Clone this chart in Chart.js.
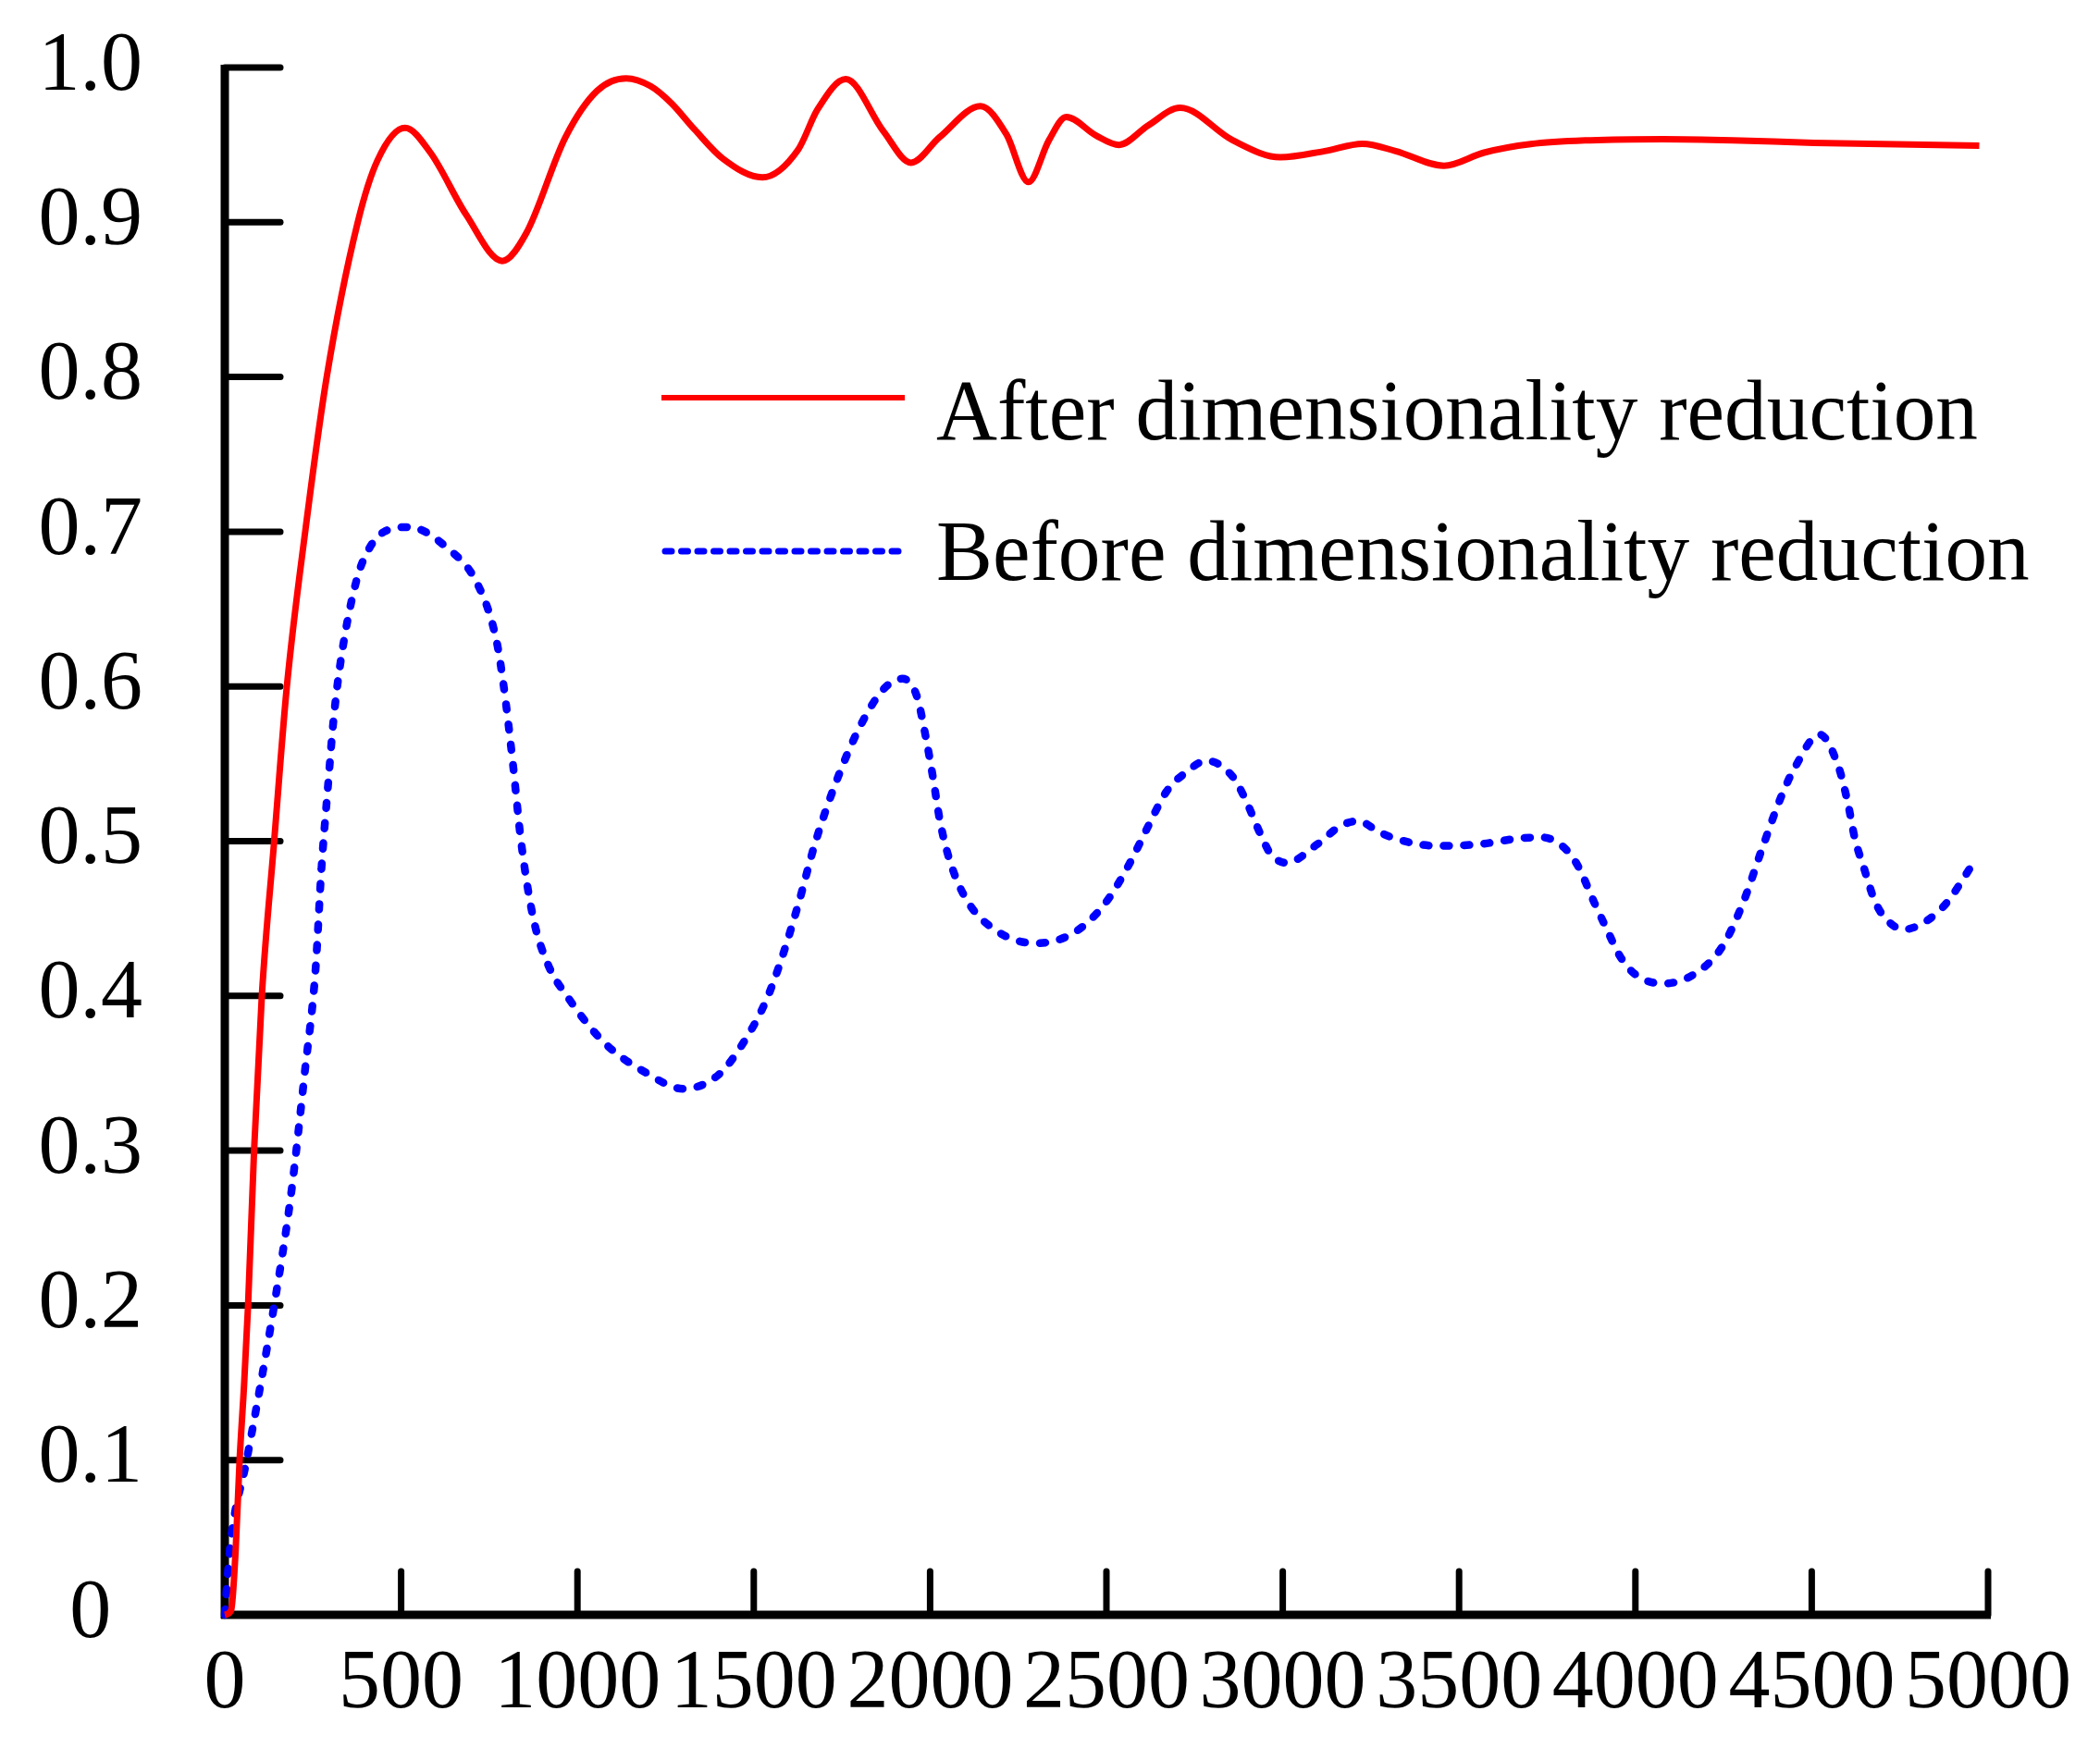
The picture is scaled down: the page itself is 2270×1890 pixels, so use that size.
<!DOCTYPE html>
<html>
<head>
<meta charset="utf-8">
<title>Dimensionality reduction</title>
<script src="https://cdn.jsdelivr.net/npm/chart.js@4.4.1/dist/chart.umd.min.js"></script>
<style>
    html, body { margin: 0; padding: 0; background: #fff; }
    #wrap { width: 2270px; height: 1890px; }
</style>
</head>
<body>
<div id="wrap"><canvas id="chart" width="2270" height="1890"></canvas></div>
<script>
// Series names
const seriesNames = ['After dimensionality reduction', 'Before dimensionality reduction'];

// Tick values
const xTicks = [0, 500, 1000, 1500, 2000, 2500, 3000, 3500, 4000, 4500, 5000];
const yTicks = [0, 0.1, 0.2, 0.3, 0.4, 0.5, 0.6, 0.7, 0.8, 0.9, 1.0];

// After dimensionality reduction (x, y)
const afterX = [0, 18, 31, 42, 55, 66, 83, 105, 140, 176, 228, 289, 377, 433, 511, 583, 684, 787,
    855, 966, 1056, 1138, 1207, 1266, 1332, 1413, 1524, 1626, 1681, 1761, 1867, 1946, 2027, 2143,
    2216, 2279, 2337, 2386, 2471, 2536, 2618, 2709, 2858, 2993, 3119, 3226, 3320, 3457, 3571,
    3703, 3873, 4078, 4276, 4506, 4975];
const afterY = [0, 0.003, 0.043, 0.1, 0.15, 0.2, 0.3, 0.4, 0.5, 0.6, 0.7, 0.8, 0.9, 0.94, 0.961, 0.945, 0.905, 0.875,
    0.893, 0.955, 0.985, 0.993, 0.988, 0.977, 0.96, 0.941, 0.929, 0.947, 0.973, 0.9925, 0.959, 0.9385, 0.955, 0.975,
    0.957, 0.926, 0.953, 0.968, 0.956, 0.95, 0.9625, 0.974, 0.953, 0.942, 0.946, 0.9507, 0.946, 0.9365, 0.945,
    0.9505, 0.953, 0.9537, 0.953, 0.9513, 0.9495];

// Before dimensionality reduction (x, y)
const beforeX = [0, 8, 18, 62, 140, 188, 227, 257, 274, 292, 309, 331, 374, 409, 452, 522, 628, 717, 770,
    791, 817, 840, 875, 917, 970, 1075, 1197, 1299, 1400, 1474, 1533, 1573, 1626, 1673, 1733, 1801,
    1867, 1921, 1962, 1988, 2009, 2028, 2055, 2101, 2182, 2298, 2409, 2497, 2562, 2617, 2670, 2723,
    2784, 2857, 2890, 2938, 2965, 3011, 3098, 3165, 3214, 3273, 3321, 3435, 3556, 3677, 3737, 3797,
    3837, 3884, 3917, 3958, 4005, 4078, 4159, 4244, 4305, 4359, 4412, 4453, 4522, 4576, 4603, 4622,
    4649, 4676, 4702, 4762, 4829, 4882, 4956];
const beforeY = [0, 0.025, 0.05, 0.1, 0.2, 0.272, 0.351, 0.416, 0.482, 0.534, 0.58, 0.62, 0.669, 0.689, 0.7, 0.703, 0.69, 0.666, 0.63,
    0.6, 0.55, 0.5, 0.45, 0.42, 0.4, 0.37, 0.35, 0.34, 0.349, 0.371, 0.396, 0.42, 0.459, 0.498, 0.538, 0.574,
    0.598, 0.605, 0.594, 0.567, 0.54, 0.513, 0.488, 0.463, 0.443, 0.434, 0.441, 0.46, 0.484, 0.509, 0.532, 0.544,
    0.552, 0.542, 0.529, 0.504, 0.492, 0.486, 0.498, 0.51, 0.513, 0.506, 0.5015, 0.497, 0.498, 0.502, 0.5024, 0.496,
    0.484, 0.46, 0.444, 0.425, 0.413, 0.408, 0.413, 0.431, 0.46, 0.495, 0.528, 0.548, 0.569, 0.548, 0.524, 0.502,
    0.482, 0.463, 0.452, 0.443, 0.449, 0.46, 0.485];

const tickFont = { family: '"Liberation Serif", "Times New Roman", serif', size: 90 };

function toPoints(xs, ys) {
    return xs.map((x, i) => ({ x: x, y: ys[i] }));
}

// Axes with ticks pointing into the plot
const inwardAxes = {
    id: 'inwardAxes',
    beforeDatasetsDraw(chart) {
        const ctx = chart.ctx;
        const xs = chart.scales.x;
        const ys = chart.scales.y;
        const x0 = xs.getPixelForValue(0);
        const y0 = ys.getPixelForValue(0);
        ctx.save();
        ctx.strokeStyle = '#000';

        ctx.lineCap = 'butt';
        ctx.lineWidth = 9;
        ctx.beginPath();
        ctx.moveTo(x0, ys.getPixelForValue(1) - 3);
        ctx.lineTo(x0, y0 + 4);
        ctx.stroke();
        ctx.lineWidth = 9;
        ctx.beginPath();
        ctx.moveTo(x0 - 4, y0);
        ctx.lineTo(xs.getPixelForValue(5000) + 3, y0);
        ctx.stroke();

        ctx.lineCap = 'round';
        ctx.lineWidth = 7;
        yTicks.slice(1).forEach(v => {
            const py = ys.getPixelForValue(v);
            ctx.beginPath();
            ctx.moveTo(x0, py);
            ctx.lineTo(x0 + 60, py);
            ctx.stroke();
        });
        xTicks.slice(1).forEach(v => {
            const px = xs.getPixelForValue(v);
            ctx.beginPath();
            ctx.moveTo(px, y0);
            ctx.lineTo(px, y0 - 47);
            ctx.stroke();
        });
        ctx.restore();
    }
};

// Legend drawn inside the plot
const inlineLegend = {
    id: 'inlineLegend',
    afterDraw(chart) {
        const ctx = chart.ctx;
        const rows = [
            { lineY: 430, textY: 475 },
            { lineY: 596, textY: 627 }
        ];
        ctx.save();
        ctx.font = '94px "Liberation Serif", "Times New Roman", serif';
        ctx.fillStyle = '#000';
        ctx.textBaseline = 'alphabetic';
        const squeeze = 1126 / ctx.measureText(seriesNames[0]).width;
        chart.data.datasets.forEach((ds, i) => {
            const r = rows[i];
            ctx.strokeStyle = ds.borderColor;
            ctx.lineWidth = i === 0 ? 6 : 7;
            ctx.lineCap = i === 0 ? 'butt' : 'round';
            ctx.setLineDash(i === 0 ? [] : [7, 10.5]);
            ctx.beginPath();
            ctx.moveTo(i === 0 ? 715 : 719, r.lineY);
            ctx.lineTo(978, r.lineY);
            ctx.stroke();
            ctx.setLineDash([]);
            ctx.save();
            ctx.translate(1012, r.textY);
            ctx.scale(squeeze, 1);
            ctx.fillText(ds.label, 0, 0);
            ctx.restore();
        });
        ctx.restore();
    }
};

new Chart(document.getElementById('chart'), {
    type: 'line',
    data: {
        datasets: [
            {
                label: seriesNames[0],
                data: toPoints(afterX, afterY),
                borderColor: '#ff0000',
                borderWidth: 7,
                cubicInterpolationMode: 'monotone',
                pointRadius: 0,
                fill: false,
                clip: false
            },
            {
                label: seriesNames[1],
                data: toPoints(beforeX, beforeY),
                borderColor: '#0000ff',
                borderWidth: 8.5,
                borderDash: [6, 16],
                borderCapStyle: 'round',
                cubicInterpolationMode: 'monotone',
                pointRadius: 0,
                fill: false,
                clip: false
            }
        ]
    },
    options: {
        responsive: false,
        animation: false,
        devicePixelRatio: 1,
        layout: { padding: { left: 0, right: 121, top: 73, bottom: 0 } },
        plugins: {
            legend: { display: false },
            tooltip: { enabled: false }
        },
        scales: {
            x: {
                type: 'linear',
                min: 0,
                max: 5000,
                afterFit(scale) {
                    scale.height = 144;
                    scale.paddingLeft = 0;
                    scale.paddingRight = 0;
                },
                afterBuildTicks(scale) { scale.ticks = xTicks.map(v => ({ value: v })); },
                ticks: {
                    autoSkip: false,
                    maxRotation: 0,
                    padding: 22,
                    color: '#000',
                    font: tickFont,
                    callback: v => String(v)
                },
                grid: { display: false, drawTicks: false },
                border: { display: false }
            },
            y: {
                type: 'linear',
                min: 0,
                max: 1,
                afterFit(scale) {
                    scale.width = 243;
                    scale.paddingTop = 0;
                    scale.paddingBottom = 0;
                },
                afterBuildTicks(scale) { scale.ticks = yTicks.map(v => ({ value: v })); },
                ticks: {
                    crossAlign: 'center',
                    padding: 89,
                    color: '#000',
                    font: tickFont,
                    callback: v => (v === 0 ? '0' : v.toFixed(1))
                },
                grid: { display: false, drawTicks: false },
                border: { display: false }
            }
        }
    },
    plugins: [inwardAxes, inlineLegend]
});
</script>
</body>
</html>
